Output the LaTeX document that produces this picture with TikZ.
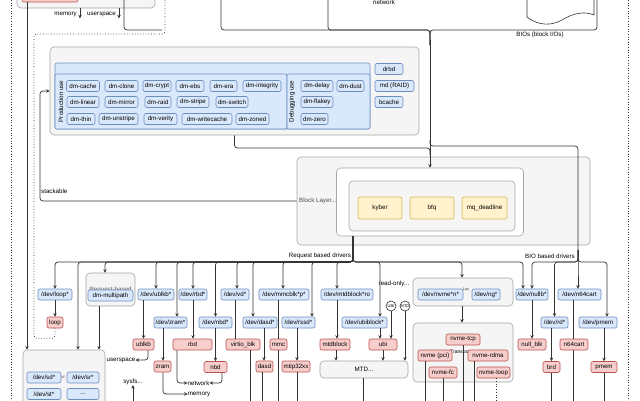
\documentclass[tikz,border=0pt]{standalone}
\usepackage{fontspec}
\setmainfont{Liberation Sans}
\usetikzlibrary{arrows.meta,calc}
\definecolor{bluef}{HTML}{DAE8FC}
\definecolor{blued}{HTML}{6C8EBF}
\definecolor{redf}{HTML}{F8CECC}
\definecolor{redd}{HTML}{B85450}
\definecolor{yelf}{HTML}{FFF2CC}
\definecolor{yeld}{HTML}{D6B656}
\definecolor{greyf}{HTML}{F5F5F5}
\definecolor{greyd}{HTML}{A6A6A6}
\definecolor{ln}{HTML}{333333}
\tikzset{
 base/.style={draw, rounded corners=2pt, inner sep=0pt, font=\fontsize{6.2}{7}\selectfont, line width=0.6pt},
 bl/.style={base, fill=bluef, draw=blued},
 rd/.style={base, fill=redf, draw=redd},
 yl/.style={base, fill=yelf, draw=yeld},
 gr/.style={base, fill=greyf, draw=greyd, rounded corners=4pt},
 wh/.style={base, fill=white, draw=greyd, rounded corners=4pt},
 lbl/.style={font=\fontsize{6.2}{7}\selectfont, inner sep=0pt},
 tiny/.style={font=\fontsize{4}{4.5}\selectfont, inner sep=0pt},
 circ/.style={draw=ln, fill=white, circle, minimum size=10pt, inner sep=0pt, font=\fontsize{4}{4.5}\selectfont, line width=0.6pt},
 con/.style={draw=ln, line width=0.7pt, rounded corners=3pt},
 arr/.style={con, -{Stealth[length=3.5pt,width=3.5pt]}},
}
\newcommand{\mybox}[7]{\node[#2,minimum width=#5pt,minimum height=#6pt] (#1) at (#3,#4) {#7};}
\begin{document}
\begin{tikzpicture}[x=1pt,y=-1pt]
\useasboundingbox (0,0) rectangle (640,400);
\clip (0,0) rectangle (640,400);
\fill[white] (0,0) rectangle (640,400);
% outer dotted borders
\draw[dotted, draw=ln, line width=0.6pt] (11,-5) -- (11,405);
\draw[dotted, draw=ln, line width=0.6pt] (628,-5) -- (628,405);
% top area
\mybox{topgrey}{gr}{86}{-11}{138}{38}{}
\mybox{topred}{rd}{50}{-4}{56}{12}{}
\node[lbl, anchor=east] (memt) at (77,14) {memory};
\node[lbl, anchor=east] (ust) at (116,14) {userspace};
\draw[arr] ([xshift=-6pt]topgrey.south) -- ++(0,10);
\draw[arr] ([xshift=33pt]topgrey.south) -- ++(0,10);
\draw[con] (124,-5) |- (162,30);
\draw[con] (221,-5) |- (430,30) -- (430,45);
\draw[con] (328,-5) |- (430,30) -- (430,45);
\draw[con] (597,-5) |- (430,30) -- (430,45);
\draw[draw=ln, line width=0.6pt, fill=white] (527,-5) -- (527,17) .. controls (540,27) and (553,25) .. (562,20) .. controls (573,13) and (585,11) .. (594,15) -- (594,-5);
\node[lbl] (nettop) at (384,2) {network};
\node[lbl] (bios) at (540,35) {BIOs (block I/Os)};
% dotted path from loop
\node[rd, minimum width=16pt, minimum height=11pt] (loop) at (55,322.5) {loop};
\draw[dotted, draw=ln, line width=0.7pt, rounded corners=3pt] (loop.south) -- ++(0,10) -| (34,34) -| (165,-5);
% device mapper area
\mybox{dmgrey}{gr}{234.5}{91}{369}{88}{}
\mybox{dmhead}{bl}{212.5}{96}{315}{66}{}
\mybox{prod}{bl}{171}{101.5}{232}{55}{}
\mybox{debug}{bl}{328.5}{101.5}{83}{55}{}
\node[lbl, rotate=90] (produse) at (61,101.5) {Production use};
\node[lbl, rotate=90] (debuse) at (292,101.5) {Debugging use};
\mybox{dmcache}{bl}{83}{86}{33}{11}{dm-cache}
\mybox{dmclone}{bl}{121.5}{86}{33}{11}{dm-clone}
\mybox{dmcrypt}{bl}{157}{86}{28}{11}{dm-crypt}
\mybox{dmebs}{bl}{190}{86}{28}{11}{dm-ebs}
\mybox{dmera}{bl}{223.5}{86}{27}{11}{dm-era}
\mybox{dmint}{bl}{262}{86}{38}{11}{dm-integrity}
\mybox{dmlinear}{bl}{83}{102}{32}{11}{dm-linear}
\mybox{dmmirror}{bl}{121.5}{102}{33}{11}{dm-mirror}
\mybox{dmraid}{bl}{158}{102}{26}{11}{dm-raid}
\mybox{dmstripe}{bl}{193}{102}{32}{11}{dm-stripe}
\mybox{dmswitch}{bl}{232}{102}{32}{11}{dm-switch}
\mybox{dmthin}{bl}{81}{119}{28}{11}{dm-thin}
\mybox{dmunstripe}{bl}{118.5}{119}{39}{11}{dm-unstripe}
\mybox{dmverity}{bl}{160.5}{119}{33}{11}{dm-verity}
\mybox{dmwc}{bl}{207}{119}{50}{11}{dm-writecache}
\mybox{dmzoned}{bl}{252.5}{119}{33}{11}{dm-zoned}
\mybox{dmdelay}{bl}{317}{86}{32}{11}{dm-delay}
\mybox{dmdust}{bl}{350.5}{86}{27}{11}{dm-dust}
\mybox{dmflakey}{bl}{317}{102}{32}{11}{dm-flakey}
\mybox{dmzero}{bl}{314.5}{119}{27}{11}{dm-zero}
\mybox{drbd}{bl}{389}{69}{28}{11}{drbd}
\mybox{mdraid}{bl}{394.5}{86}{39}{11}{md (RAID)}
\mybox{bcache}{bl}{389}{102}{28}{11}{bcache}
% block layer
\mybox{blk}{gr}{443.5}{201}{293}{88}{}
\node[lbl, anchor=west, text=gray!60!black] (blklbl) at (299,201) {Block Layer...};
\mybox{sched}{wh}{430}{202}{187}{68}{}
\mybox{schedin}{gr}{432}{206}{166}{50}{}
\mybox{kyber}{yl}{380}{208}{44}{22}{kyber}
\mybox{bfq}{yl}{432}{208}{44}{22}{bfq}
\mybox{mqd}{yl}{484.5}{208}{45}{22}{mq\_deadline}
\node[lbl, anchor=west] (stack) at (41,191) {stackable};
\draw[arr] (blk.west) -| (40,91) -- (dmgrey.west);
% BIO flow
\draw[con] (dmgrey.south) |- (430,148) -- (430,155);
\draw[arr] (430,40) -- (sched.north);
\coordinate (bj) at (578,250);
\draw[con] (430,140) |- (578,146) -- (bj);
\node[lbl] (biolbl) at (550,256) {BIO based drivers};
\node[lbl] (rqlbl) at (320,256) {Request based drivers};
% request drivers nodes
\mybox{loopdev}{bl}{55}{294.5}{34}{11}{/dev/loop*}
\mybox{mpc}{gr}{110.5}{289.5}{49}{33}{}
\node[lbl, text=gray!70!black] (rqbased) at (110.5,290) {Request-based};
\mybox{mpath}{bl}{110.5}{295.5}{45}{11}{dm-multipath}
\mybox{ublkbdev}{bl}{156}{294.5}{36}{11}{/dev/ublkb*}
\mybox{rbddev}{bl}{193}{294.5}{28}{11}{/dev/rbd*}
\mybox{zramdev}{bl}{170.5}{322.5}{33}{11}{/dev/zram*}
\mybox{nbddev}{bl}{215.5}{322.5}{33}{11}{/dev/nbd*}
\mybox{ublkb}{rd}{143.5}{344.5}{21}{11}{ublkb}
\mybox{rbd}{rd}{192.5}{344.5}{39}{11}{rbd}
\mybox{nbd}{rd}{215.5}{367}{23}{11}{nbd}
\mybox{zram}{rd}{162.5}{366.5}{17}{11}{zram}
\mybox{vddev}{bl}{235}{294.5}{28}{11}{/dev/vd*}
\mybox{mmcdev}{bl}{284}{294.5}{50}{11}{/dev/mmcblk*p*}
\mybox{mtdblkdev}{bl}{347}{294.5}{52}{11}{/dev/mtdblock*ro}
\mybox{dasddev}{bl}{260}{322.5}{34}{11}{/dev/dasd*}
\mybox{rssddev}{bl}{298.5}{322.5}{33}{11}{/dev/rssd*}
\mybox{ubiblkdev}{bl}{364.5}{322.5}{45}{11}{/dev/ubiblock*}
\mybox{virtio}{rd}{243}{344.5}{34}{11}{virtio\_blk}
\mybox{mmc}{rd}{278.5}{344.5}{17}{11}{mmc}
\mybox{mtdblk}{rd}{335}{344.5}{30}{11}{mtdblock}
\mybox{ubi}{rd}{383}{344.5}{28}{11}{ubi}
\mybox{dasd}{rd}{264.5}{366.5}{17}{11}{dasd}
\mybox{mtip}{rd}{296}{366.5}{28}{11}{mtip32xx}
\mybox{mtd}{gr}{364}{369.5}{88}{17}{MTD...}
\node[circ] (ubic) at (391,306) {UBI};
\node[circ] (mtdc) at (405,306) {MTD};
\node[lbl] (ro) at (394,284) {read-only...};
% nvme
\mybox{nvmec}{gr}{463}{292}{100}{28}{}
\node[tiny, text=gray!60!black] (lay) at (466,290) {Lay};
\mybox{nvmedev}{bl}{440.5}{294.5}{45}{11}{/dev/nvme*n*}
\mybox{ngdev}{bl}{486}{294.5}{28}{11}{/dev/ng*}
\mybox{nvmet}{gr}{463}{352.5}{100}{59}{}
\node[tiny, font=\fontsize{5}{6}\selectfont] (transp) at (461,352) {Transport};
\mybox{nvmetcp}{rd}{463}{339.5}{34}{11}{nvme-tcp}
\mybox{nvmepci}{rd}{435}{355.5}{34}{11}{nvme (pci)}
\mybox{nvmerdma}{rd}{488}{355.5}{40}{11}{nvme-rdma}
\mybox{nvmefc}{rd}{443}{372.5}{28}{11}{nvme-fc}
\mybox{nvmeloop}{rd}{493.5}{372.5}{33}{11}{nvme-loop}
% BIO drivers
\mybox{nullbdev}{bl}{532}{294.5}{32}{11}{/dev/nullb*}
\mybox{nullblk}{rd}{532}{344.5}{28}{11}{null\_blk}
\mybox{n64dev}{bl}{579.5}{294.5}{43}{11}{/dev/n64cart}
\mybox{n64}{rd}{574}{344.5}{28}{11}{n64cart}
\mybox{rddev}{bl}{554.5}{322.5}{27}{11}{/dev/rd*}
\mybox{brd}{rd}{551.5}{367}{17}{11}{brd}
\mybox{pmemdev}{bl}{598}{322.5}{38}{11}{/dev/pmem}
\mybox{pmem}{rd}{604}{367}{26}{11}{pmem}
% scsi
\mybox{scsi}{gr}{64}{385}{82}{70}{}
\node[tiny, text=gray!60!black] (idl) at (63,377) {id};
\mybox{sd}{bl}{44}{377.5}{34}{11}{/dev/sd*}
\mybox{sr}{bl}{83}{377.5}{32}{11}{/dev/sr*}
\mybox{st}{bl}{44}{394}{34}{11}{/dev/st*}
\mybox{dots}{bl}{83}{394}{32}{11}{...}
% labels
\node[lbl] (uspace) at (121,360) {userspace};
\node[lbl] (net) at (198.5,383) {network};
\node[lbl] (mem) at (199,394) {memory};
\node[lbl] (sysfs) at (133,382) {sysfs...};
% left solid line
\draw[arr] (topred.south -| 27,0) -- (scsi.north -| 27,0);
% request bus
\coordinate (rq) at (353,236);
\foreach \t in {(loopdev.north), ([xshift=14pt]scsi.north), ([xshift=-5.5pt]mpc.north), (ublkbdev.north), ([xshift=6.5pt]zramdev.north), (rbddev.north), (nbddev.north), ([xshift=2pt]vddev.north), ([xshift=-7pt]dasddev.north), ([xshift=-1pt]mmcdev.north), ([xshift=13.5pt]rssddev.north), ([xshift=-10pt]mtdblkdev.north), ([xshift=15.5pt]ubiblkdev.north), ([xshift=-1pt]nvmec.north), ([xshift=-9pt]nullbdev.north)}
  \draw[arr] (rq) -- ++(0,26) -| \t;
% bio bus
\foreach \t in {(nullbdev.north), (rddev.north), ([xshift=-1.5pt]n64dev.north), ([xshift=9pt]pmemdev.north)}
  \draw[arr] (bj) -- ++(0,12) -| \t;
% device to driver
\draw[arr] (loopdev) -- (loop);
\draw[arr] (mpc.south -| 99,0) -- (scsi.north -| 99,0);
\draw[arr] (ublkbdev.south -| 143.5,0) -- (ublkb.north -| 143.5,0);
\draw[arr] (rbddev.south -| 193,0) -- (rbd.north -| 193,0);
\draw[arr] (zramdev.south -| 163,0) -- (zram.north -| 163,0);
\draw[arr] (nbddev.south -| 215.5,0) -- (nbd.north -| 215.5,0);
\draw[con] (vddev.south -| 235,0) -- (virtio.north -| 235,0);
\draw[con] (mmcdev.south -| 278,0) -- (mmc.north -| 278,0);
\draw[arr] (dasddev.south -| 264,0) -- (dasd.north -| 264,0);
\draw[arr] (rssddev.south -| 297,0) -- (mtip.north -| 297,0);
\draw[arr] (mtdblkdev.south -| 337,0) -- (mtdblk.north -| 337,0);
\draw[arr] (ubiblkdev.south -| 380,0) -- (ubi.north -| 380,0);
\draw[arr] (ubic.south) -- (ubi.north -| ubic.south);
\draw[arr] (mtdc.south) -- (mtd.north -| mtdc.south);
\draw[arr] (mtdblk.south -| 336,0) -- (mtd.north -| 336,0);
\draw[arr] (ubi.south -| 383,0) -- (mtd.north -| 383,0);
\draw[arr] (nvmec.south -| 462,0) -- (nvmet.north -| 462,0);
\draw[arr] (nullbdev.south) -- (nullblk.north);
\draw[con] (n64dev.south -| 573,0) -- (n64.north -| 573,0);
\draw[arr] (rddev.south -| 551.5,0) -- (brd.north -| 551.5,0);
\draw[arr] (pmemdev.south -| 604,0) -- (pmem.north -| 604,0);
% side outputs
\draw[arr] (ublkb.south -| 148,0) |- (uspace.east);
\draw[arr] (rbd.south -| 177,0) |- (net.west);
\draw[arr] (nbd.south -| 222,0) |- (net.east);
\draw[arr] (zram.south -| 163,0) |- (mem.west);
\coordinate (sysb) at (133,410);
\draw[arr] (sysb) -- (sysfs.south);
% lines to lower layers
\foreach \n/\x in {virtio/250, dasd/262, mmc/278, mtip/297, mtd/363, nvmepci/425, nvmefc/443, nvmetcp/463, nvmerdma/474, brd/551.5, n64/573, pmem/604}
  \draw[con] (\n.south -| \x,0) -- (\x,410);
\draw[con, dotted] (nvmeloop.south -| 496,0) -- (496,410);
\end{tikzpicture}
\end{document}
